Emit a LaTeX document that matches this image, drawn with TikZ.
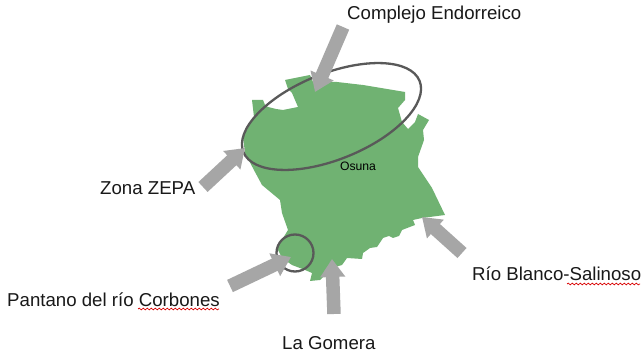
\documentclass[tikz,border=0pt]{standalone}
\usepackage{fontspec}
\setmainfont{Liberation Sans}
\usetikzlibrary{arrows.meta,decorations.pathmorphing}
\definecolor{mapgreen}{HTML}{70B272}
\definecolor{arrowgray}{HTML}{A6A6A6}
\definecolor{ringgray}{HTML}{595959}
\tikzset{
  bigarrow/.style={draw=arrowgray,line width=13.5pt,-{Triangle[width=24pt,length=18pt,fill=arrowgray]}},
  ring/.style={draw=ringgray,line width=2.3pt},
  lab/.style={inner sep=0pt,anchor=base west,font=\fontsize{18.65pt}{20pt}\selectfont,text=black!90},
  spell/.style={draw=red!85!black,line width=0.7pt,decorate,decoration={snake,amplitude=0.9pt,segment length=4pt}}
}
\begin{document}
\begin{tikzpicture}[x=1pt,y=-1pt]
\useasboundingbox (0,0) rectangle (643,355);
\fill[white] (0,0) rectangle (643,355);
% territory
\fill[mapgreen] (252,100) -- (263,100) -- (265,105) -- (268,107) -- (276,109) -- (283,110) -- (298,107) -- (292,93) -- (288,89) -- (285,80)
 -- (310,75) -- (313,82) -- (337,82) -- (363,85) -- (387,89) -- (405,92) -- (405,100) -- (398,108) -- (402,122) -- (408,129)
 -- (415,122) -- (418,114) -- (429,120) -- (423,130) -- (424,140) -- (418,157) -- (418,167) -- (432,188) -- (445,215)
 -- (422,218) -- (413,220) -- (415,225) -- (402,230) -- (399,236) -- (393,238) -- (389,236) -- (383,238) -- (377,247) -- (370,248) -- (363,253) -- (362,259)
 -- (347,258) -- (342,265) -- (332,268) -- (320,280) -- (310,281) -- (312,273) -- (305,270) -- (292,265) -- (282,258) -- (277,248)
 -- (288,230) -- (282,213) -- (280,200) -- (262,185) -- (255,172) -- (245,153) -- (243,137) -- (254,117) -- cycle;
% zones
\draw[ring,rotate around={22:(331.5,116.5)}] (331.5,116.5) ellipse [x radius=95,y radius=43];
\draw[ring] (295,253) circle [radius=18.5];
% labels
\node[lab] (endo) at (347,19.5) {Complejo Endorreico};
\node[lab] (zepa) at (100,194.5) {Zona ZEPA};
\node[inner sep=0pt,font=\fontsize{12.2pt}{13pt}\selectfont] (osuna) at (358,166) {Osuna};
\node[lab] (blanco) at (472,281) {Río Blanco-Salinoso};
\node[lab] (pantano) at (7,307) {Pantano del río Corbones};
\node[lab] (gomera) at (282,350) {La Gomera};
% spelling marks
\coordinate (s1a) at (138,309); \coordinate (s1b) at (219,309);
\coordinate (s2a) at (567,284); \coordinate (s2b) at (640,284);
\draw[spell] (s1a) -- (s1b);
\draw[spell] (s2a) -- (s2b);
% arrows
\coordinate (a1t) at (343,27); \coordinate (a1h) at (315,92);
\coordinate (a2t) at (203,187); \coordinate (a2h) at (245,148);
\coordinate (a3t) at (230,286); \coordinate (a3h) at (291,257);
\coordinate (a4t) at (334,314); \coordinate (a4h) at (332,259);
\coordinate (a5t) at (462,253); \coordinate (a5h) at (422,217);
\draw[bigarrow] (a1t) -- (a1h);
\draw[bigarrow] (a2t) -- (a2h);
\draw[bigarrow] (a3t) -- (a3h);
\draw[bigarrow] (a4t) -- (a4h);
\draw[bigarrow] (a5t) -- (a5h);
\end{tikzpicture}
\end{document}
